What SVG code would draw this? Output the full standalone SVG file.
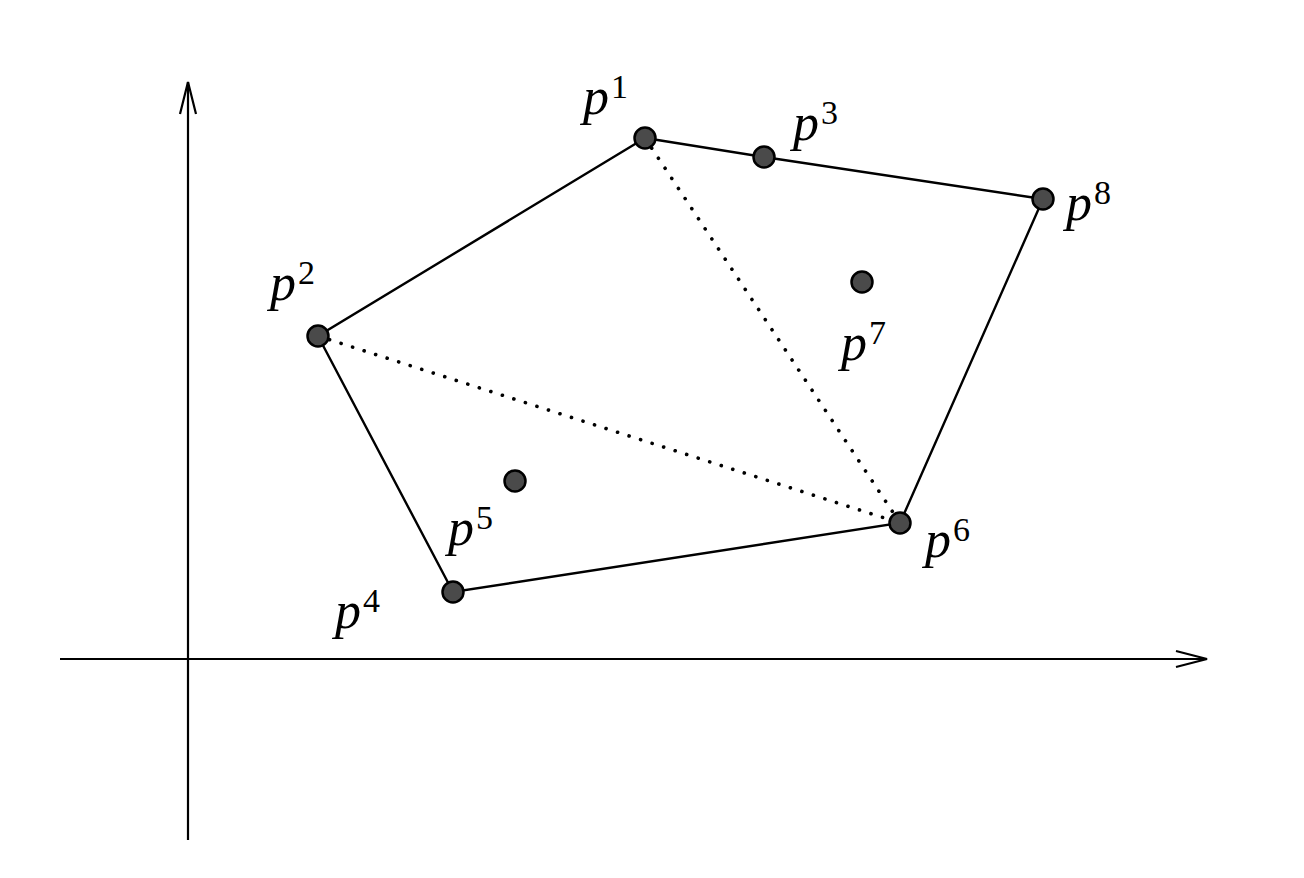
<svg xmlns="http://www.w3.org/2000/svg" width="1304" height="878" viewBox="0 0 1304 878">
<style>
.ax{stroke:#000;stroke-width:2.2;fill:none}
.e{stroke:#000;stroke-width:2.4;fill:none}
.d{stroke:#000;stroke-width:3.6;fill:none;stroke-dasharray:0.1 12;stroke-linecap:round}
.pt{fill:#4a4a4a;stroke:#000;stroke-width:2.5}
.lb{font-family:"Liberation Serif",serif;font-style:italic;font-size:52px;fill:#000}
.sp{font-family:"Liberation Serif",serif;font-size:34px;fill:#000}
</style>
<rect width="1304" height="878" fill="#fff"/>
<g id="axes">
<line class="ax" x1="188" y1="840" x2="188" y2="82"/>
<polyline class="ax" points="180,114 188,82 196,114"/>
<line class="ax" x1="60" y1="659" x2="1207" y2="659"/>
<polyline class="ax" points="1176,651 1207,659 1176,667"/>
</g>
<g id="connectors">
<polyline class="e" points="645,138 318,336 453,592 900,523 1043,199 764,157 645,138"/>
<line class="d" x1="645" y1="138" x2="900" y2="523"/>
<line class="d" x1="318" y1="336" x2="900" y2="523"/>
</g>
<g id="p1"><circle class="pt" cx="645" cy="138" r="10.5"/><text class="lb" x="583" y="114">p</text><text class="sp" x="611" y="98">1</text></g>
<g id="p3"><circle class="pt" cx="764" cy="157" r="10.5"/><text class="lb" x="793" y="140">p</text><text class="sp" x="821" y="124">3</text></g>
<g id="p8"><circle class="pt" cx="1043" cy="199" r="10.5"/><text class="lb" x="1066" y="220">p</text><text class="sp" x="1094" y="204">8</text></g>
<g id="p2"><circle class="pt" cx="318" cy="336" r="10.5"/><text class="lb" x="270" y="300">p</text><text class="sp" x="298" y="284">2</text></g>
<g id="p7"><circle class="pt" cx="862" cy="282" r="10.5"/><text class="lb" x="841" y="360">p</text><text class="sp" x="869" y="344">7</text></g>
<g id="p5"><circle class="pt" cx="515" cy="481" r="10.5"/><text class="lb" x="448" y="545">p</text><text class="sp" x="476" y="529">5</text></g>
<g id="p6"><circle class="pt" cx="900" cy="523" r="10.5"/><text class="lb" x="925" y="557">p</text><text class="sp" x="953" y="541">6</text></g>
<g id="p4"><circle class="pt" cx="453" cy="592" r="10.5"/><text class="lb" x="335" y="628">p</text><text class="sp" x="363" y="612">4</text></g>
</svg>
